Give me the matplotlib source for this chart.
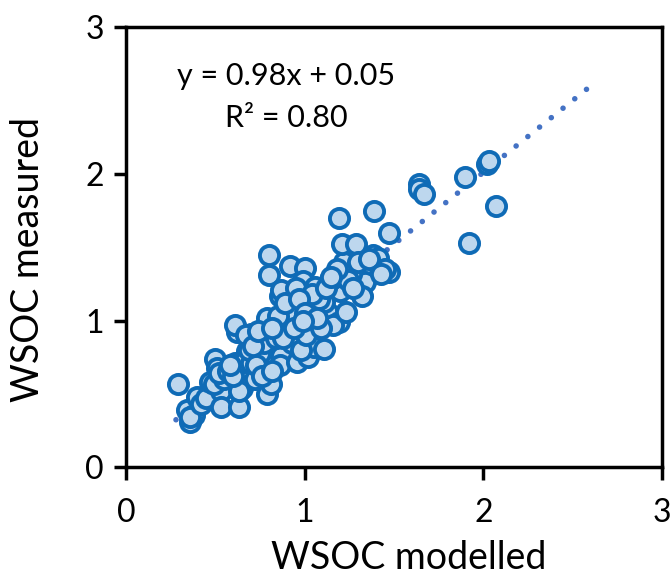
import matplotlib
matplotlib.use("Agg")
import matplotlib.pyplot as plt
import numpy as np

plt.rcParams['font.family'] = ['Lato', 'DejaVu Sans']

# WSOC modelled (x) vs measured (y)
wsoc_modelled = [
    0.29, 0.34, 0.36, 0.38, 0.36, 0.40, 0.42, 0.45, 0.47, 0.50,
    0.51, 0.53, 0.53, 0.49, 0.55, 0.52, 0.61, 0.63, 0.62, 0.61,
    0.63, 0.65, 0.63, 0.57, 0.68, 0.66, 0.70, 0.70, 0.72, 0.69,
    0.67, 0.60, 0.58,
    0.79, 0.79, 0.81, 0.80, 0.80, 0.86, 0.87, 0.83, 0.78, 0.87,
    0.86, 0.92, 1.00, 0.99, 0.95, 0.94, 0.96, 0.96, 0.90, 0.98,
    0.96, 1.02, 1.05, 1.11, 1.06, 1.06, 1.13, 1.11, 1.19, 1.16,
    1.23, 1.20, 0.75, 0.77, 0.84, 0.88, 0.91, 0.85, 0.89, 0.93,
    0.98, 1.01, 1.03, 1.08, 1.04, 0.97, 1.00, 1.09, 1.14, 1.17,
    1.12, 0.73, 0.76, 0.82, 0.88, 0.94, 0.71, 0.74, 0.82, 1.07,
    0.99,
    1.22, 1.21, 1.19, 1.29, 1.32, 1.34, 1.32, 1.38, 1.39, 1.42,
    1.47, 1.47, 1.41, 1.45, 1.26, 1.30, 1.24, 1.36, 1.43, 1.27,
    1.18, 1.15,
    1.64, 1.64, 1.67, 1.90, 2.02, 2.07, 1.92, 2.03,
]
wsoc_measured = [
    0.57, 0.39, 0.31, 0.36, 0.34, 0.48, 0.43, 0.47, 0.58, 0.74,
    0.68, 0.52, 0.41, 0.57, 0.60, 0.64, 0.71, 0.62, 0.92, 0.97,
    0.41, 0.54, 0.52, 0.66, 0.79, 0.72, 0.91, 0.71, 0.60, 0.80,
    0.90, 0.62, 0.70,
    1.02, 0.50, 0.57, 1.45, 1.31, 1.17, 1.21, 0.82, 0.72, 0.76,
    0.70, 1.37, 1.36, 1.27, 1.22, 1.10, 1.05, 0.97, 0.92, 0.92,
    0.72, 0.75, 0.82, 0.81, 1.23, 1.00, 1.05, 1.13, 0.99, 0.97,
    1.06, 1.20, 0.78, 0.85, 0.88, 0.98, 1.05, 1.03, 1.12, 0.85,
    0.80, 0.90, 1.08, 1.15, 1.18, 1.15, 1.05, 0.95, 1.28, 1.30,
    1.22, 0.70, 0.62, 0.66, 0.88, 0.95, 0.83, 0.93, 0.95, 1.02,
    1.00,
    1.40, 1.52, 1.70, 1.52, 1.36, 1.26, 1.17, 1.45, 1.75, 1.37,
    1.33, 1.60, 1.43, 1.35, 1.32, 1.40, 1.28, 1.42, 1.32, 1.22,
    1.35, 1.30,
    1.93, 1.90, 1.86, 1.98, 2.07, 1.78, 1.53, 2.09,
]

slope, intercept = 0.98, 0.05
fit_range = [0.28, 2.58]

fig = plt.figure(figsize=(6.7, 5.77), dpi=100)
ax = fig.add_axes([0.188, 0.19, 0.8, 0.763])

ax.scatter(wsoc_modelled, wsoc_measured, s=190, facecolor='#BDD7EE',
           edgecolor='#0F6BB6', linewidth=2.8, zorder=3)

# dotted linear trendline
xf = np.array(fit_range)
ax.plot(xf, slope * xf + intercept, color='#4472C4', linewidth=4,
        linestyle=(0, (0.01, 2.7)), dash_capstyle='round', zorder=2)

ax.text(0.895, 2.67, 'y = 0.98x + 0.05', ha='center', va='center', fontsize=22)
ax.text(0.895, 2.38, 'R² = 0.80', ha='center', va='center', fontsize=22)

ax.set_xlim(0, 3)
ax.set_ylim(0, 3)
ax.set_xticks([0, 1, 2, 3])
ax.set_yticks([0, 1, 2, 3])
ax.tick_params(direction='out', length=9, width=2.5, labelsize=23)
ax.tick_params(axis='x', pad=13)
ax.tick_params(axis='y', pad=7)
for s in ax.spines.values():
    s.set_linewidth(2.5)

fig.text(0.61, 0.014, 'WSOC modelled', ha='center', va='baseline', fontsize=27)
fig.text(0.042, 0.55, 'WSOC measured', ha='center', va='center',
         rotation=90, fontsize=27)

fig.savefig('out.png', dpi=100)
